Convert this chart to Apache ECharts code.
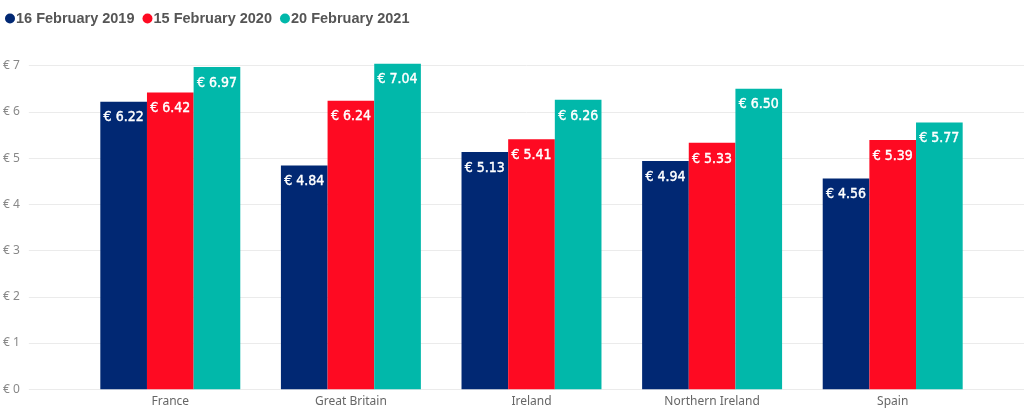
<!DOCTYPE html>
<html><head><meta charset="utf-8">
<script src="https://cdn.jsdelivr.net/npm/echarts@6/dist/echarts.min.js"></script>
<style>html,body{margin:0;padding:0;background:#fff}#c{width:1024px;height:414px}</style>
</head><body><div id="c"></div>
<script>
const categories = ['France', 'Great Britain', 'Ireland', 'Northern Ireland', 'Spain'];
const seriesNames = ['16 February 2019', '15 February 2020', '20 February 2021'];
const values2019 = [6.22, 4.84, 5.13, 4.94, 4.56];
const values2020 = [6.42, 6.24, 5.41, 5.33, 5.39];
const values2021 = [6.97, 7.04, 6.26, 6.50, 5.77];
const yTicks = [0, 1, 2, 3, 4, 5, 6, 7];

const colors = ['#012873', '#FE0A22', '#01B8AA'];
const chart = echarts.init(document.getElementById('c'));
const allVals = [values2019, values2020, values2021];
const series = seriesNames.map((n, i) => ({
  name: n, type: 'bar', xAxisIndex: 0, yAxisIndex: 0,
  data: allVals[i], barGap: '0%', barCategoryGap: '22.5%',
  itemStyle: { color: colors[i] },
  label: {
    show: true, position: 'insideTop', distance: 9,
    color: '#fff', fontFamily: 'DejaVu Sans Condensed', fontSize: 14, fontWeight: 'normal',
    textBorderColor: '#fff', textBorderWidth: 0.4,
    formatter: p => '€ ' + p.value.toFixed(2)
  }
}));
chart.setOption({
  animation: false,
  legend: {
    left: 0, top: 6, icon: 'circle', itemWidth: 10, itemHeight: 10, itemGap: 8,
    textStyle: { fontFamily: 'Liberation Sans', fontWeight: 'bold', fontSize: 14.5, color: '#555', padding: [0, 0, 0, -4] },
    data: seriesNames
  },
  grid: [
    { left: 80, right: 41, top: 56.4, bottom: 24.7 },
    { left: 28, right: 0, top: 65.7, bottom: 24.7 }
  ],
  xAxis: [
    { type: 'category', gridIndex: 0, data: categories,
      axisLine: { show: false }, axisTick: { show: false },
      axisLabel: { color: '#666', fontFamily: 'Noto Sans', fontSize: 12, margin: 6 } },
    { type: 'value', gridIndex: 1, show: false, min: 0, max: 1 }
  ],
  yAxis: [
    { type: 'value', gridIndex: 0, min: 0, max: 7.2, show: false },
    { type: 'value', gridIndex: 1, min: yTicks[0], max: yTicks[yTicks.length - 1], interval: 1,
      axisLine: { show: false }, axisTick: { show: false },
      splitLine: { lineStyle: { color: '#ebebeb', width: 1 } },
      axisLabel: { color: '#888', fontFamily: 'Noto Sans', fontSize: 12, margin: 9,
        formatter: v => '€ ' + v } }
  ],
  series: series
});
</script></body></html>
